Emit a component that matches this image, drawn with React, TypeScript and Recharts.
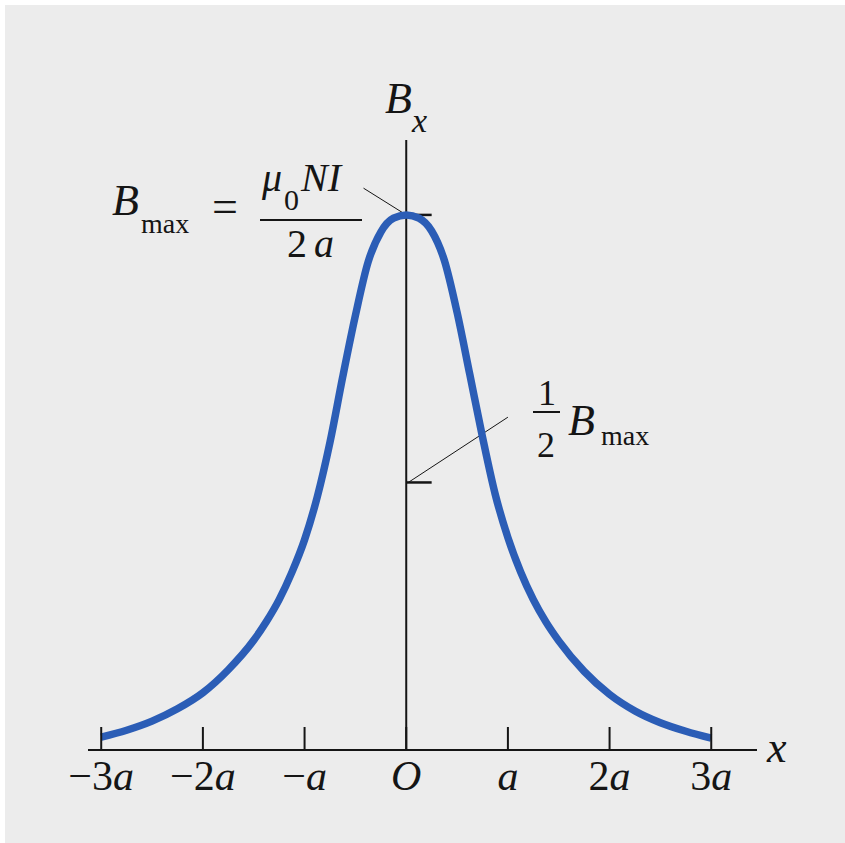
import React from "react";
import { Line, LineChart, ReferenceLine, XAxis, YAxis } from "recharts";

// Field along the axis of a current loop, x in units of the loop radius a,
// B in units of B_max.
const xPos = [
  -3, -2.75, -2.5, -2.25, -2, -1.75, -1.5, -1.375, -1.25, -1.125, -1, -0.875, -0.75, -0.625, -0.5, -0.375, -0.25, -0.125,
  0, 0.125, 0.25, 0.375, 0.5, 0.625, 0.75, 0.875, 1, 1.125, 1.25, 1.375, 1.5, 1.75, 2, 2.25, 2.5, 2.75, 3,
];
const bField = [
  0.024, 0.037, 0.054, 0.077, 0.107, 0.15, 0.205, 0.24, 0.281, 0.332, 0.393, 0.473, 0.575, 0.697, 0.812, 0.912, 0.968, 0.994,
  1.0, 0.994, 0.97, 0.915, 0.818, 0.702, 0.585, 0.478, 0.397, 0.333, 0.281, 0.239, 0.204, 0.147, 0.104, 0.073, 0.051, 0.035, 0.022,
];

const tickValues = [-3, -2, -1, 0, 1, 2, 3];
const tickLabels = ["−3a", "−2a", "−a", "O", "a", "2a", "3a"];

const bMax = 1;
const bHalf = 0.5;

const data = xPos.map((x, i) => ({ x, b: bField[i] }));

const W = 845;
const H = 843;
const SERIF = "'Liberation Serif', Tinos, 'Times New Roman', 'Nimbus Roman', 'Noto Serif', 'DejaVu Serif', FreeSerif, serif";
const INK = "#151515";
const PAPER = "#ececec";
const CURVE = "#2b5db6";

// letters are set in italic, digits and minus upright
function mathText(s: string) {
  return s.split("").map((ch, i) => (
    <tspan key={i} fontStyle={/[A-Za-z]/.test(ch) ? "italic" : "normal"}>
      {ch}
    </tspan>
  ));
}

function XTick(props: any) {
  const { x, y, payload } = props;
  const idx = tickValues.indexOf(payload.value);
  return (
    <g>
      <line x1={x} x2={x} y1={y} y2={y - 23} stroke={INK} strokeWidth={2} />
      <text x={x} y={y + 40} textAnchor="middle" fontSize={42} fontFamily={SERIF} fill={INK}>
        {mathText(tickLabels[idx] ?? "")}
      </text>
    </g>
  );
}

function Annotations() {
  return (
    <svg width={W} height={H} style={{ position: "absolute", left: 0, top: 0, pointerEvents: "none" }}>
      <g fontFamily={SERIF} fill={INK}>
        {/* vertical axis title */}
        <text x={385} y={113} fontSize={44} fontStyle="italic">B</text>
        <text x={412} y={132} fontSize={34} fontStyle="italic">x</text>

        {/* horizontal axis title */}
        <text x={767} y={762} fontSize={44} fontStyle="italic">x</text>

        {/* B_max = mu0 N I / 2a */}
        <text x={112} y={215} fontSize={44} fontStyle="italic">B</text>
        <text x={141} y={233} fontSize={28}>max</text>
        <text x={212} y={222} fontSize={46}>=</text>
        <text x={262} y={191} fontSize={40} fontStyle="italic">μ</text>
        <text x={284} y={210} fontSize={30}>0</text>
        <text x={301} y={191} fontSize={40} fontStyle="italic">NI</text>
        <line x1={260} x2={362} y1={220} y2={220} stroke={INK} strokeWidth={2} />
        <text x={287} y={257} fontSize={40}>2</text>
        <text x={314} y={257} fontSize={40} fontStyle="italic">a</text>

        {/* 1/2 B_max */}
        <text x={538} y={405} fontSize={36}>1</text>
        <line x1={533} x2={560} y1={412} y2={412} stroke={INK} strokeWidth={2} />
        <text x={537} y={457} fontSize={36}>2</text>
        <text x={568} y={435} fontSize={44} fontStyle="italic">B</text>
        <text x={601} y={445} fontSize={28}>max</text>
      </g>
    </svg>
  );
}

export default function App() {
  return (
    <div style={{ position: "fixed", left: 0, top: 0, width: W, height: H, background: PAPER, overflow: "hidden" }}>
      <style>{`html, body { margin: 0; background: ${PAPER}; }`}</style>
      {/* white scan edge along the top and left */}
      <div style={{ position: "absolute", left: 0, top: 0, width: W, height: 5, background: "#fff" }} />
      <div style={{ position: "absolute", left: 0, top: 0, width: 5, height: H, background: "#fff" }} />
      <div style={{ position: "absolute", left: 0, top: 0 }}>
        <LineChart width={W} height={H} data={data} margin={{ top: 140, right: 88, bottom: 0, left: 88 }}>
          <XAxis
            dataKey="x"
            type="number"
            domain={[-3.13, 3.45]}
            ticks={tickValues}
            height={93}
            tickSize={0}
            tickMargin={0}
            tickLine={false}
            interval={0}
            axisLine={{ stroke: INK, strokeWidth: 2 }}
            tick={<XTick />}
            allowDataOverflow
          />
          <YAxis type="number" domain={[0, 1.14]} hide allowDataOverflow />
          <ReferenceLine x={0} stroke={INK} strokeWidth={2} />
          <ReferenceLine segment={[{ x: 0, y: bMax }, { x: 0.25, y: bMax }]} stroke={INK} strokeWidth={2.5} />
          <ReferenceLine segment={[{ x: 0, y: bHalf }, { x: 0.25, y: bHalf }]} stroke={INK} strokeWidth={2.5} />
          <ReferenceLine segment={[{ x: 0, y: bMax }, { x: -0.42, y: 1.05 }]} stroke={INK} strokeWidth={1} />
          <ReferenceLine segment={[{ x: 0.02, y: bHalf }, { x: 1.0, y: 0.622 }]} stroke={INK} strokeWidth={1} />
          <Line
            type="monotone"
            dataKey="b"
            stroke={CURVE}
            strokeWidth={7.5}
            dot={false}
            activeDot={false}
            isAnimationActive={false}
          />
        </LineChart>
      </div>
      <Annotations />
    </div>
  );
}
